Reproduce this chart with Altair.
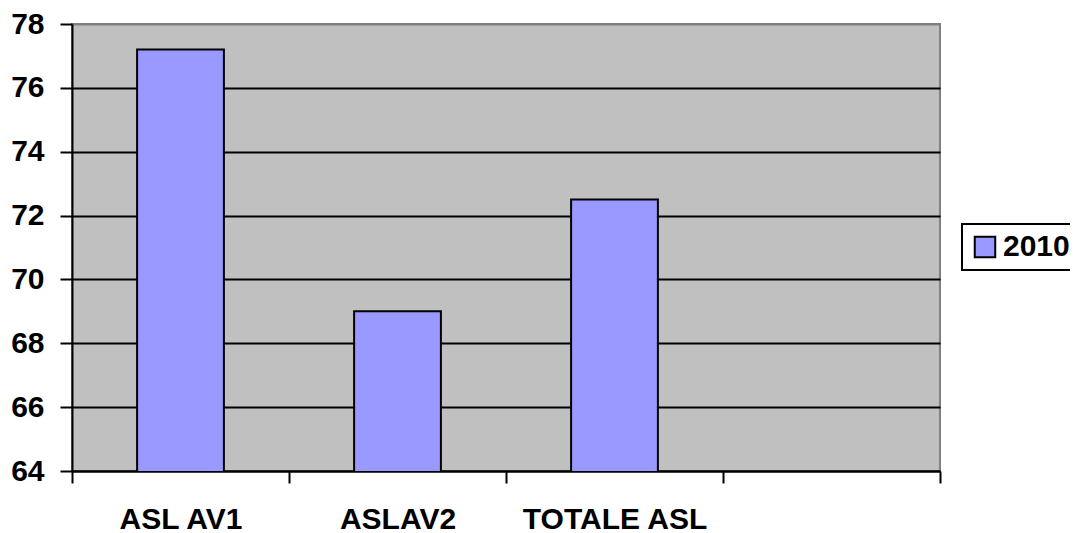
import altair as alt
import pandas as pd

categories = ["ASL AV1", "ASLAV2", "TOTALE ASL"]
domain_categories = ["ASL AV1", "ASLAV2", "TOTALE ASL", " "]
values = [77.2, 69.0, 72.5]
series = ["2010", "2010", "2010"]
y_ticks = [64, 66, 68, 70, 72, 74, 76, 78]

df = pd.DataFrame({"cat": categories, "val": values, "series": series})

FONT = "Liberation Sans"
FS = 30

chart = alt.Chart(df).mark_bar(
    stroke="black", strokeWidth=2, clip=True, width=alt.RelativeBandSize(0.4)
).encode(
    x=alt.X(
        "cat:N",
        sort=domain_categories,
        scale=alt.Scale(domain=domain_categories, paddingInner=0, paddingOuter=0),
        axis=alt.Axis(
            title=None, labelAngle=0, labelFont=FONT, labelFontSize=FS,
            labelFontWeight="bold", labelColor="black", tickBand="extent",
            tickSize=12, tickColor="black", tickWidth=2, domainColor="black",
            domainWidth=2, labelPadding=21, grid=False, labelLimit=400,
        ),
    ),
    y=alt.Y(
        "val:Q",
        scale=alt.Scale(domain=[64, 78], zero=False, nice=False),
        axis=alt.Axis(
            title=None, values=y_ticks, labelFont=FONT, labelFontSize=FS,
            labelFontWeight="bold", labelColor="black", tickSize=12,
            tickColor="black", tickWidth=2, domainColor="black", domainWidth=2,
            labelPadding=16, grid=True,
            gridColor=alt.condition("datum.value == 78", alt.value("#808080"), alt.value("black")),
            gridWidth=2,
        ),
    ),
    color=alt.Color(
        "series:N",
        scale=alt.Scale(range=["#9999FF"]),
        legend=alt.Legend(
            title=None, orient="none", legendX=890, legendY=200,
            labelFont=FONT, labelFontSize=FS, labelFontWeight="bold",
            labelColor="black", symbolType="square", symbolSize=420,
            symbolStrokeColor="black", symbolStrokeWidth=2,
            strokeColor="black", padding=8, labelOffset=3, labelLimit=200,
        ),
    ),
).properties(
    width=868, height=447,
    autosize=alt.AutoSizeParams(type="none"),
    padding={"left": 64, "top": 16, "right": 130, "bottom": 62},
    background="white",
).configure_view(
    fill="#C0C0C0", stroke="#808080", strokeWidth=2
).configure_legend(
    strokeWidth=2
)

chart.save("out.html", embed_options={"renderer": "svg", "actions": False})
